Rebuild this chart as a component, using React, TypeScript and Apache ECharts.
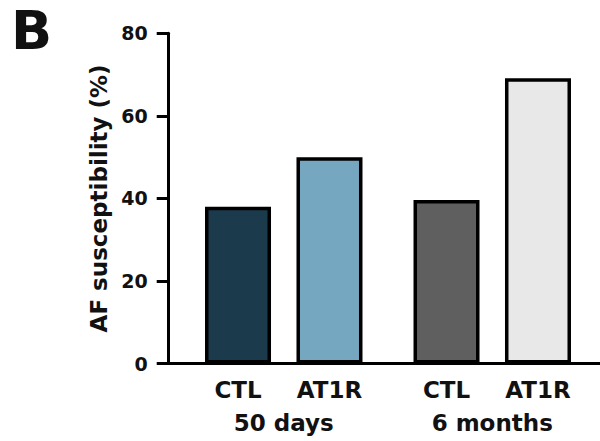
import React, { useEffect, useRef } from "react";
import * as echarts from "echarts";

const groups = ["50 days", "6 months"];
const ctlValues = [38.0, 39.6];
const at1rValues = [50.0, 69.1];
const ctlColors = ["#1b3b4c", "#5f5f5f"];
const at1rColors = ["#76a7c0", "#e8e8e8"];
const yTicks = [0, 20, 40, 60, 80];

const FONT = "'DejaVu Sans', sans-serif";

export default function App() {
  const ref = useRef<HTMLDivElement>(null);
  useEffect(() => {
    if (!ref.current) return;
    const chart = echarts.init(ref.current, null, { renderer: "svg" });
    const gridLeft = 179.5;
    const axisOffset = 10.8;
    const barLabel = {
      show: true,
      position: "bottom",
      distance: 15,
      formatter: (p: any) => p.seriesName,
      fontFamily: FONT,
      fontWeight: "bold",
      fontSize: 23,
      color: "#111",
    };
    chart.setOption({
      animation: false,
      grid: { left: gridLeft, right: 3.5, top: 33.3, bottom: 77.5 },
      xAxis: {
        type: "category",
        data: groups,
        axisLine: { show: false },
        axisTick: { show: false },
        axisLabel: {
          margin: 48,
          fontFamily: FONT,
          fontWeight: "bold",
          fontSize: 23,
          color: "#111",
        },
      },
      yAxis: {
        type: "value",
        min: yTicks[0],
        max: yTicks[yTicks.length - 1],
        interval: 20,
        offset: axisOffset,
        name: "AF susceptibility (%)",
        nameLocation: "middle",
        nameGap: 56,
        nameTextStyle: {
          fontFamily: FONT,
          fontWeight: "bold",
          fontSize: 23,
          color: "#111",
        },
        axisLine: { show: true, lineStyle: { color: "#000", width: 3 } },
        axisTick: { show: true, length: 12, lineStyle: { color: "#000", width: 3 } },
        splitLine: { show: false },
        axisLabel: {
          margin: 21,
          padding: [0, 0, 6, 0],
          fontFamily: FONT,
          fontWeight: "bold",
          fontSize: 19,
          color: "#111",
        },
      },
      series: [
        {
          name: "CTL",
          type: "bar",
          barWidth: 66,
          barGap: "38.6%",
          data: ctlValues.map((v, i) => ({
            value: v,
            itemStyle: { color: ctlColors[i] },
          })),
          itemStyle: { borderColor: "#000", borderWidth: 3.5 },
          label: barLabel,
        },
        {
          name: "AT1R",
          type: "bar",
          barWidth: 66,
          barGap: "38.6%",
          data: at1rValues.map((v, i) => ({
            value: v,
            itemStyle: { color: at1rColors[i] },
          })),
          itemStyle: { borderColor: "#000", borderWidth: 3.5 },
          label: barLabel,
        },
      ],
    });
    const y0 = chart.convertToPixel({ yAxisIndex: 0 }, 0) as number;
    const axisX = gridLeft - axisOffset;
    chart.setOption({
      graphic: [
        {
          type: "line",
          shape: { x1: axisX - 1.5, y1: y0, x2: 600, y2: y0 },
          style: { stroke: "#000", lineWidth: 3 },
          z: 10,
        },
        {
          type: "text",
          left: 11,
          top: 3,
          style: {
            text: "B",
            fontFamily: FONT,
            fontWeight: "bold",
            fontSize: 54,
            fill: "#111",
          },
        },
      ],
    });
    return () => chart.dispose();
  }, []);
  return (
    <div
      ref={ref}
      style={{ position: "fixed", left: 0, top: 0, width: 600, height: 441, background: "#fff" }}
    />
  );
}
